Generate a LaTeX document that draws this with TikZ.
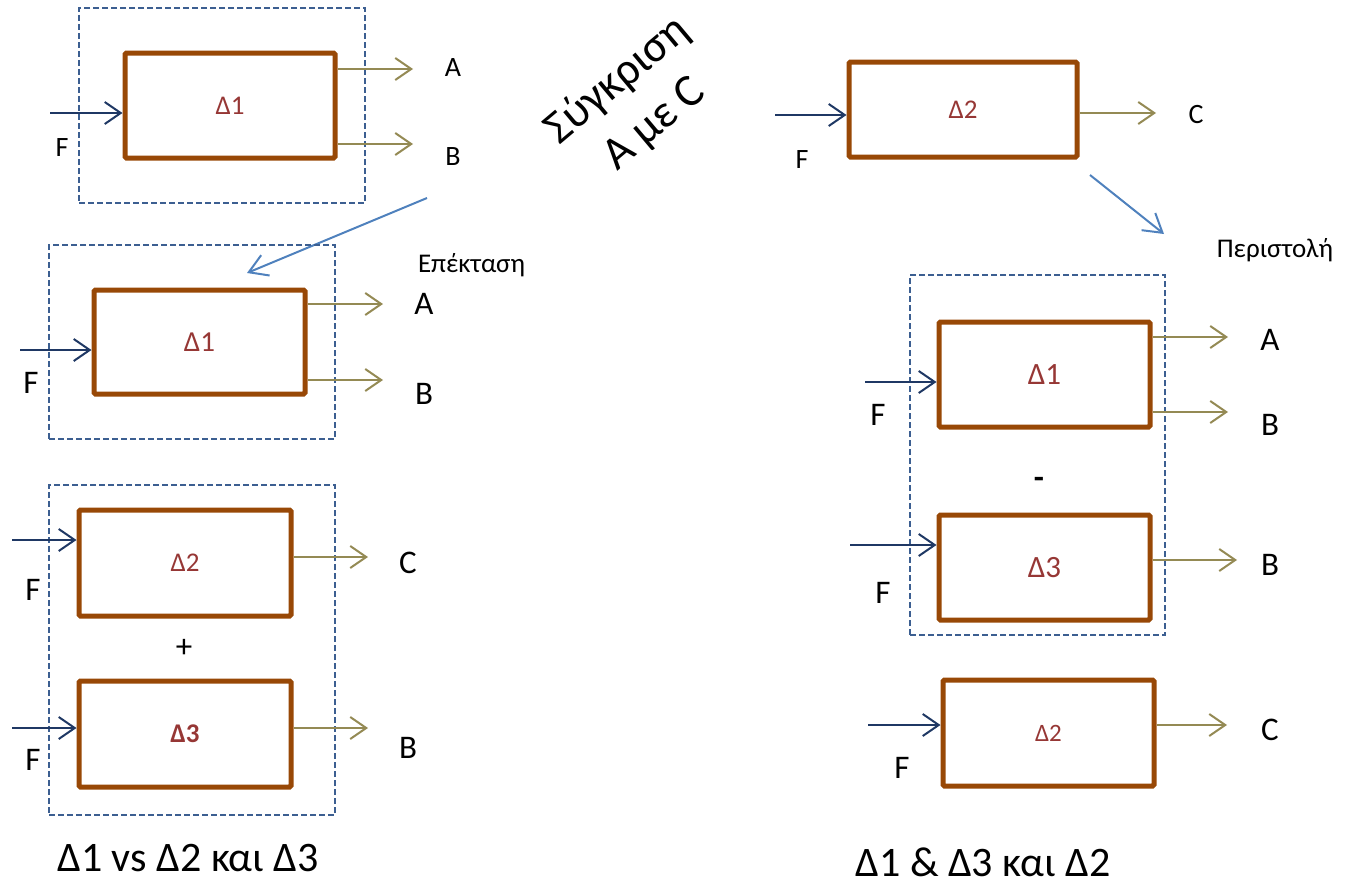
\documentclass[tikz,border=0pt]{standalone}
\usepackage{fontspec}
\setmainfont{Carlito}
\usetikzlibrary{arrows.meta}
\definecolor{boxc}{RGB}{152,72,6}
\definecolor{grpc}{RGB}{60,95,145}
\definecolor{inc}{RGB}{31,56,100}
\definecolor{outc}{RGB}{148,138,84}
\definecolor{linkc}{RGB}{79,129,189}
\definecolor{labc}{RGB}{150,55,53}
\tikzset{
  proc/.style={draw=boxc, line width=5pt, rounded corners=1.5pt, text=labc, inner sep=0pt, font=\fontsize{27}{30}\selectfont},
  grp/.style={draw=grpc, line width=2pt, dash pattern=on 6pt off 3pt, inner sep=0pt, outer sep=0pt},
  inarr/.style={draw=inc, line width=2pt, -{Straight Barb[length=16pt,width=22pt]}},
  outarr/.style={draw=outc, line width=2pt, -{Straight Barb[length=16pt,width=22pt]}},
  linkarr/.style={draw=linkc, line width=2pt, -{Straight Barb[length=18pt,width=22pt]}},
  lblS/.style={font=\fontsize{28}{32}\selectfont, inner sep=0pt},
  lblL/.style={font=\fontsize{33}{38}\selectfont, inner sep=0pt},
  note/.style={font=\fontsize{27}{30}\selectfont, inner sep=0pt},
  capt/.style={font=\fontsize{42}{48}\selectfont, inner sep=0pt}
}
\begin{document}
\begin{tikzpicture}[x=1pt,y=-1pt]
\useasboundingbox (0,0) rectangle (1345,886);

% ---------- Panel 1 (top left)
\node[grp, minimum width=286pt, minimum height=195pt] (g1) at (222,105.5) {};
\node[proc, minimum width=210pt, minimum height=105pt] (p1) at (230,105.5) {Δ1};
\coordinate (p1in) at (50,113);
\coordinate (p1a) at (413,69);
\coordinate (p1b) at (413,144);
\draw[inarr] (p1in) -- (p1.west |- p1in);
\draw[outarr] (p1.east |- p1a) -- (p1a);
\draw[outarr] (p1.east |- p1b) -- (p1b);
\node[lblS] (p1F) at (62,148) {F};
\node[lblS] (p1A) at (453,68) {A};
\node[lblS] (p1B) at (453,157) {B};

% link
\coordinate (lk1s) at (427,198);
\coordinate (lk1e) at (247,273);
\draw[linkarr] (lk1s) -- (lk1e);
\node[note] (ep) at (471.5,265) {Επέκταση};

% ---------- Panel 2
\node[grp, minimum width=286pt, minimum height=194pt] (g2) at (192,342) {};
\node[proc, minimum width=211pt, minimum height=104pt, font=\fontsize{29}{32}\selectfont] (p2) at (199.5,342) {Δ1};
\coordinate (p2in) at (20,350);
\coordinate (p2a) at (383,304);
\coordinate (p2b) at (383,380);
\draw[inarr] (p2in) -- (p2.west |- p2in);
\draw[outarr] (p2.east |- p2a) -- (p2a);
\draw[outarr] (p2.east |- p2b) -- (p2b);
\node[lblL] (p2F) at (31,383) {F};
\node[lblL] (p2A) at (424,304) {A};
\node[lblL] (p2B) at (424,394) {B};

% ---------- Panel 3
\node[grp, minimum width=286pt, minimum height=330pt] (g3) at (192,650) {};
\node[proc, minimum width=212pt, minimum height=106pt] (p3a) at (185,563) {Δ2};
\node[proc, minimum width=212pt, minimum height=106pt, font=\fontsize{27}{30}\selectfont\bfseries] (p3b) at (185,734) {Δ3};
\coordinate (p3ina) at (12,540);
\coordinate (p3inb) at (12,728);
\coordinate (p3c) at (368,557);
\coordinate (p3d) at (368,728);
\draw[inarr] (p3ina) -- (p3a.west |- p3ina);
\draw[inarr] (p3inb) -- (p3b.west |- p3inb);
\draw[outarr] (p3a.east |- p3c) -- (p3c);
\draw[outarr] (p3b.east |- p3d) -- (p3d);
\node[lblL] (p3F1) at (33,590) {F};
\node[lblL] (p3F2) at (33,760) {F};
\node[lblL] (p3C) at (408,563) {C};
\node[lblL] (p3B) at (408,748) {B};
\node[lblL] (plus) at (184,648) {+};
\node[capt] (cap1) at (188,858) {Δ1 vs Δ2 και Δ3};

% ---------- rotated comparison text
\node[rotate=40, align=center, font=\fontsize{46}{57}\selectfont, inner sep=0pt] (cmp) at (636,102) {Σύγκριση\\A με C};

% ---------- Panel 4 (top right)
\node[proc, minimum width=228pt, minimum height=95pt] (p4) at (963,109.5) {Δ2};
\coordinate (p4in) at (775,115);
\coordinate (p4c) at (1156,113);
\draw[inarr] (p4in) -- (p4.west |- p4in);
\draw[outarr] (p4.east |- p4c) -- (p4c);
\node[lblS] (p4F) at (802,160) {F};
\node[lblS] (p4C) at (1196,115) {C};
\coordinate (lk2s) at (1090,175);
\coordinate (lk2e) at (1164,234);
\draw[linkarr] (lk2s) -- (lk2e);
\node[note] (pe) at (1275,250) {Περιστολή};

% ---------- Panel 5
\node[grp, minimum width=255pt, minimum height=360pt] (g5) at (1037.5,455) {};
\node[proc, minimum width=211pt, minimum height=105pt, font=\fontsize{31}{34}\selectfont] (p5a) at (1044.5,374.5) {Δ1};
\node[proc, minimum width=211pt, minimum height=105pt, font=\fontsize{31}{34}\selectfont] (p5b) at (1044.5,567.5) {Δ3};
\coordinate (p5ina) at (865,382);
\coordinate (p5inb) at (850,545);
\coordinate (p5a1) at (1228,337);
\coordinate (p5a2) at (1228,412);
\coordinate (p5b1) at (1237,560);
\draw[inarr] (p5ina) -- (p5a.west |- p5ina);
\draw[inarr] (p5inb) -- (p5b.west |- p5inb);
\draw[outarr] (p5a.east |- p5a1) -- (p5a1);
\draw[outarr] (p5a.east |- p5a2) -- (p5a2);
\draw[outarr] (p5b.east |- p5b1) -- (p5b1);
\node[lblL] (p5F1) at (878,415) {F};
\node[lblL] (p5F2) at (883,593) {F};
\node[lblL] (p5A) at (1270,340) {A};
\node[lblL] (p5B1) at (1270,425) {B};
\node[lblL] (p5B2) at (1270,565) {B};
\node[lblL, font=\fontsize{33}{38}\selectfont\bfseries] (minus) at (1039,483) {-};

% ---------- Panel 6
\node[proc, minimum width=211pt, minimum height=106pt, font=\fontsize{25}{28}\selectfont] (p6) at (1048.5,733) {Δ2};
\coordinate (p6in) at (868,725);
\coordinate (p6c) at (1227,725);
\draw[inarr] (p6in) -- (p6.west |- p6in);
\draw[outarr] (p6.east |- p6c) -- (p6c);
\node[lblL] (p6F) at (902,768) {F};
\node[lblL] (p6C) at (1270,730) {C};
\node[capt] (cap2) at (983,862) {Δ1 \& Δ3 και Δ2};
\end{tikzpicture}
\end{document}
